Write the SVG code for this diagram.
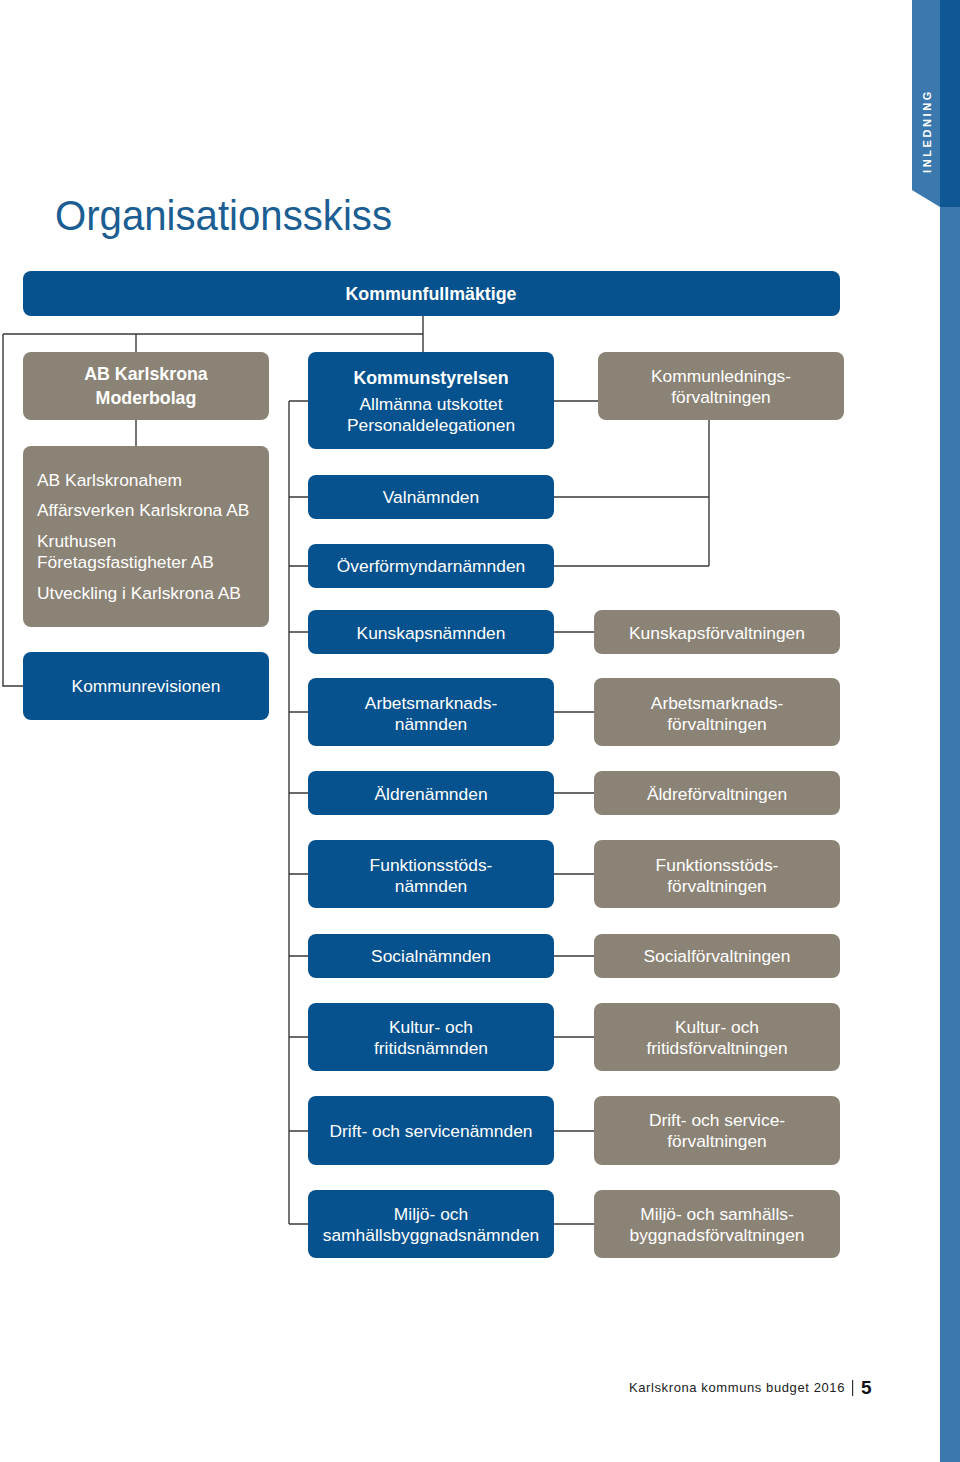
<svg xmlns="http://www.w3.org/2000/svg" width="960" height="1462" viewBox="0 0 960 1462">
<style>
.b{fill:#05528E}
.g{fill:#8B8375}
.t{font-family:"Liberation Sans",Arial,sans-serif;font-size:17.4px;fill:#fff;text-anchor:middle}
.tl{font-family:"Liberation Sans",Arial,sans-serif;font-size:17.4px;fill:#fff}
.bd{font-weight:bold;font-size:17.8px}
.c{stroke:#3a3a3a;stroke-width:1.4;fill:none}
</style>
<rect width="960" height="1462" fill="#fff"/>
<g id="tab">
<polygon points="912,0 940,0 940,207 912,190" fill="#3A78AD"/>
<rect x="940" y="0" width="20" height="207" fill="#0F5894"/>
<rect x="940" y="207" width="20" height="1255" fill="#3A78AD"/>
<text transform="translate(931,131) rotate(-90)" font-family="Liberation Sans,Arial,sans-serif" font-size="11" font-weight="bold" fill="#fff" text-anchor="middle" letter-spacing="2.6">INLEDNING</text>
</g>
<text x="55" y="230" font-family="Liberation Sans,Arial,sans-serif" font-size="42" fill="#1B5E93" textLength="337" lengthAdjust="spacingAndGlyphs">Organisationsskiss</text>
<g id="connectors">
<path class="c" d="M423,316V352M3,334H423M136,334V352M3,334V686H23M136,420V446"/>
<path class="c" d="M554,401H598M709,420V566M554,497H709M554,566H709"/>
<path class="c" d="M289,401V1224M289,401H308M289,497H308M289,566H308M289,632H308M289,712H308M289,793H308M289,874H308M289,956H308M289,1037H308M289,1131H308M289,1224H308"/>
<path class="c" d="M554,632H594M554,712H594M554,793H594M554,874H594M554,956H594M554,1037H594M554,1131H594M554,1224H594"/>
</g>
<g id="kf"><rect class="b" x="23" y="271" width="817" height="45" rx="8"/><text class="t bd" x="431" y="300">Kommunfullmäktige</text></g>
<g id="abk"><rect class="g" x="23" y="352" width="246" height="68" rx="8"/><text class="t bd" x="146" y="380">AB Karlskrona</text><text class="t bd" x="146" y="404">Moderbolag</text></g>
<g id="bolag"><rect class="g" x="23" y="446" width="246" height="181" rx="8"/>
<text class="tl" x="37" y="486">AB Karlskronahem</text>
<text class="tl" x="37" y="516">Affärsverken Karlskrona AB</text>
<text class="tl" x="37" y="547">Kruthusen</text>
<text class="tl" x="37" y="568">Företagsfastigheter AB</text>
<text class="tl" x="37" y="599">Utveckling i Karlskrona AB</text></g>
<g id="rev"><rect class="b" x="23" y="652" width="246" height="68" rx="8"/><text class="t" x="146" y="692">Kommunrevisionen</text></g>
<g id="ks"><rect class="b" x="308" y="352" width="246" height="97" rx="8"/><text class="t bd" x="431" y="384">Kommunstyrelsen</text><text class="t" x="431" y="410">Allmänna utskottet</text><text class="t" x="431" y="431">Personaldelegationen</text></g>
<g id="klf"><rect class="g" x="598" y="352" width="246" height="68" rx="8"/><text class="t" x="721" y="382">Kommunlednings-</text><text class="t" x="721" y="403">förvaltningen</text></g>
<g id="val"><rect class="b" x="308" y="475" width="246" height="44" rx="8"/><text class="t" x="431" y="503">Valnämnden</text></g>
<g id="ofn"><rect class="b" x="308" y="544" width="246" height="44" rx="8"/><text class="t" x="431" y="572">Överförmyndarnämnden</text></g>
<g id="kn"><rect class="b" x="308" y="610" width="246" height="44" rx="8"/><text class="t" x="431" y="639">Kunskapsnämnden</text></g>
<g id="kfv"><rect class="g" x="594" y="610" width="246" height="44" rx="8"/><text class="t" x="717" y="639">Kunskapsförvaltningen</text></g>
<g id="an"><rect class="b" x="308" y="678" width="246" height="68" rx="8"/><text class="t" x="431" y="709">Arbetsmarknads-</text><text class="t" x="431" y="730">nämnden</text></g>
<g id="afv"><rect class="g" x="594" y="678" width="246" height="68" rx="8"/><text class="t" x="717" y="709">Arbetsmarknads-</text><text class="t" x="717" y="730">förvaltningen</text></g>
<g id="aln"><rect class="b" x="308" y="771" width="246" height="44" rx="8"/><text class="t" x="431" y="800">Äldrenämnden</text></g>
<g id="alf"><rect class="g" x="594" y="771" width="246" height="44" rx="8"/><text class="t" x="717" y="800">Äldreförvaltningen</text></g>
<g id="fn"><rect class="b" x="308" y="840" width="246" height="68" rx="8"/><text class="t" x="431" y="871">Funktionsstöds-</text><text class="t" x="431" y="892">nämnden</text></g>
<g id="ffv"><rect class="g" x="594" y="840" width="246" height="68" rx="8"/><text class="t" x="717" y="871">Funktionsstöds-</text><text class="t" x="717" y="892">förvaltningen</text></g>
<g id="sn"><rect class="b" x="308" y="934" width="246" height="44" rx="8"/><text class="t" x="431" y="962">Socialnämnden</text></g>
<g id="sfv"><rect class="g" x="594" y="934" width="246" height="44" rx="8"/><text class="t" x="717" y="962">Socialförvaltningen</text></g>
<g id="kun"><rect class="b" x="308" y="1003" width="246" height="68" rx="8"/><text class="t" x="431" y="1033">Kultur- och</text><text class="t" x="431" y="1054">fritidsnämnden</text></g>
<g id="kuf"><rect class="g" x="594" y="1003" width="246" height="68" rx="8"/><text class="t" x="717" y="1033">Kultur- och</text><text class="t" x="717" y="1054">fritidsförvaltningen</text></g>
<g id="dn"><rect class="b" x="308" y="1096" width="246" height="69" rx="8"/><text class="t" x="431" y="1137">Drift- och servicenämnden</text></g>
<g id="dfv"><rect class="g" x="594" y="1096" width="246" height="69" rx="8"/><text class="t" x="717" y="1126">Drift- och service-</text><text class="t" x="717" y="1147">förvaltningen</text></g>
<g id="mn"><rect class="b" x="308" y="1190" width="246" height="68" rx="8"/><text class="t" x="431" y="1220">Miljö- och</text><text class="t" x="431" y="1241">samhällsbyggnadsnämnden</text></g>
<g id="mfv"><rect class="g" x="594" y="1190" width="246" height="68" rx="8"/><text class="t" x="717" y="1220">Miljö- och samhälls-</text><text class="t" x="717" y="1241">byggnadsförvaltningen</text></g>
<g id="footer">
<text x="629" y="1392" font-family="Liberation Sans,Arial,sans-serif" font-size="13" fill="#222" letter-spacing="0.6">Karlskrona kommuns budget 2016</text>
<rect x="852" y="1380" width="1.2" height="16" fill="#333"/>
<text x="861" y="1394" font-family="Liberation Sans,Arial,sans-serif" font-size="19" font-weight="bold" fill="#111">5</text>
</g>
</svg>
